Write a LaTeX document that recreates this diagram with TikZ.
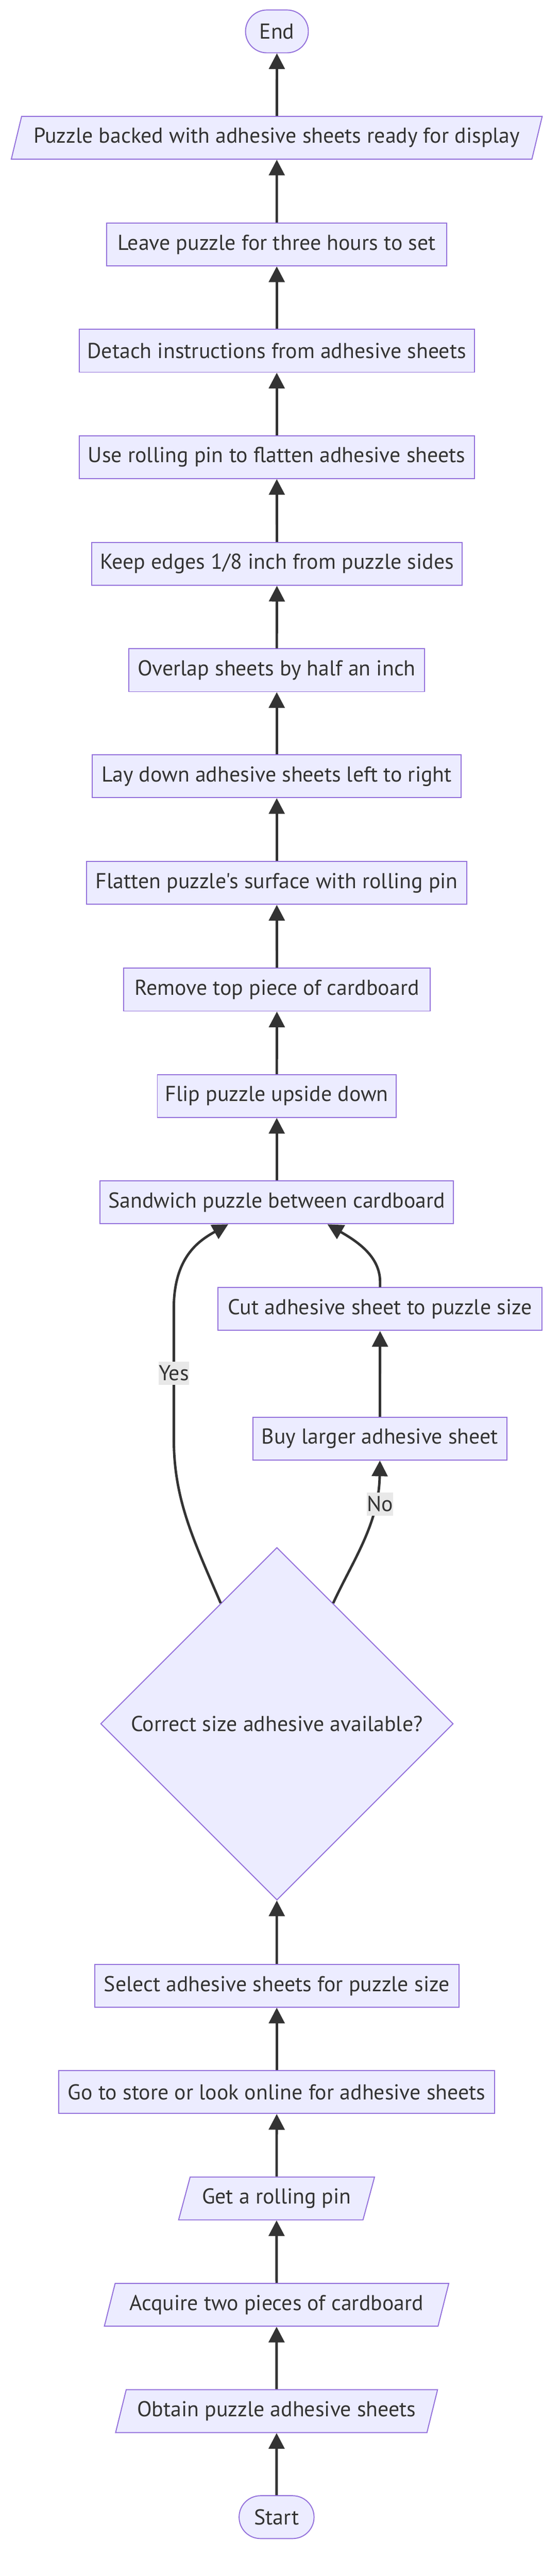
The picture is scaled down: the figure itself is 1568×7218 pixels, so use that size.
\documentclass[tikz,border=0pt]{standalone}
\usepackage{fontspec}
\setmainfont{PT Sans}[Ligatures=TeXOff]
\usetikzlibrary{shapes.geometric,arrows.meta}
\definecolor{boxfill}{HTML}{ECECFF}
\definecolor{boxline}{HTML}{9370DB}
\definecolor{ink}{HTML}{333333}
\definecolor{lblfill}{HTML}{E8E8E8}

\begin{document}
\begin{tikzpicture}[x=0.5pt,y=-0.5pt,
  every node/.style={font=\fontsize{30.2}{35}\selectfont, text=ink},
  box/.style={rectangle, draw=boxline, fill=boxfill, line width=1.4pt, minimum height=60pt, inner sep=0pt},
  term/.style={box, rounded corners=29.9pt},
  io/.style={box, trapezium, trapezium left angle=63.43, trapezium right angle=116.57, trapezium stretches=true},
  decision/.style={box, diamond, aspect=1, minimum width=494pt, minimum height=494pt},
  lbl/.style={fill=lblfill, inner xsep=0pt, inner ysep=0pt, minimum height=32.5pt},
  flow/.style={draw=ink, line width=3.5pt, -{Triangle[length=22pt,width=22pt]}}]

\useasboundingbox (0,0) rectangle (1568,7218);

%top of the chart, finishing steps
\node[term, minimum width=88pt] (endnode) at (776,88) {End};
\node[io, minimum width=747.5pt] (backed) at (775.5,386) {Puzzle backed with adhesive sheets ready for display};
\node[box, minimum width=476.5pt] (leave) at (775.5,685) {Leave puzzle for three hours to set};
\node[box, minimum width=553.5pt] (detach) at (775.5,983) {Detach instructions from adhesive sheets};
\node[box, minimum width=553.5pt] (use) at (775.5,1281) {Use rolling pin to flatten adhesive sheets};
\node[box, minimum width=519pt] (keep) at (776,1580) {Keep edges 1/8 inch from puzzle sides};
\node[box, minimum width=414.5pt] (overlap) at (775.5,1878) {Overlap sheets by half an inch};
\node[box, minimum width=516.5pt] (lay) at (775.5,2175) {Lay down adhesive sheets left to right};
\node[box, minimum width=532.5pt] (flatten) at (775.5,2474) {Flatten puzzle's surface with rolling pin};
\node[box, minimum width=429pt] (remove) at (776,2773) {Remove top piece of cardboard};
\node[box, minimum width=334.5pt] (flip) at (775.5,3071) {Flip puzzle upside down};
\node[box, minimum width=495.5pt] (sandwich) at (775.5,3369) {Sandwich puzzle between cardboard};

%the side branch
\node[box, minimum width=454pt] (cut) at (1065,3668) {Cut adhesive sheet to puzzle size};
\node[box, minimum width=355.5pt] (buy) at (1064.5,4031) {Buy larger adhesive sheet};

%the question
\node[decision] (decide) at (776,4830) {Correct size adhesive available?};

%bottom of the chart, getting things together
\node[box, minimum width=510.5pt] (select) at (775.5,5564) {Select adhesive sheets for puzzle size};
\node[box, minimum width=610.5pt] (store) at (775.5,5862) {Go to store or look online for adhesive sheets};
\node[io, minimum width=275pt] (pin) at (775,6160) {Get a rolling pin};
\node[io, minimum width=483pt] (acquire) at (775,6458) {Acquire two pieces of cardboard};
\node[io, minimum width=453pt] (obtain) at (775,6756) {Obtain puzzle adhesive sheets};
\node[term, minimum width=105pt] (startnode) at (775,7053) {Start};

%straight arrows up the middle
\foreach \a/\b in {startnode/obtain, obtain/acquire, acquire/pin, pin/store, store/select, select/decide,
  sandwich/flip, flip/remove, remove/flatten, flatten/lay, lay/overlap, overlap/keep, keep/use,
  use/detach, detach/leave, leave/backed, backed/endnode, buy/cut}
  \draw[flow] (\a) -- (\b);

%curved arrows out of the question
\draw[flow] (decide.115) .. controls (540,4310) and (487,4200) .. (487,4030) -- (487,3666)
  .. controls (487,3520) and (560,3475) .. ([xshift=-68pt]sandwich.south);
\draw[flow] (decide.65) .. controls (990,4370) and (1062,4270) .. (buy.south);
\draw[flow] (cut.north) -- (1065,3592) .. controls (1065,3520) and (1000,3478) .. ([xshift=71pt]sandwich.south);
\node[lbl] (yeslbl) at (487,3848) {Yes};
\node[lbl] (nolbl) at (1065,4214) {No};

\end{tikzpicture}
\end{document}
